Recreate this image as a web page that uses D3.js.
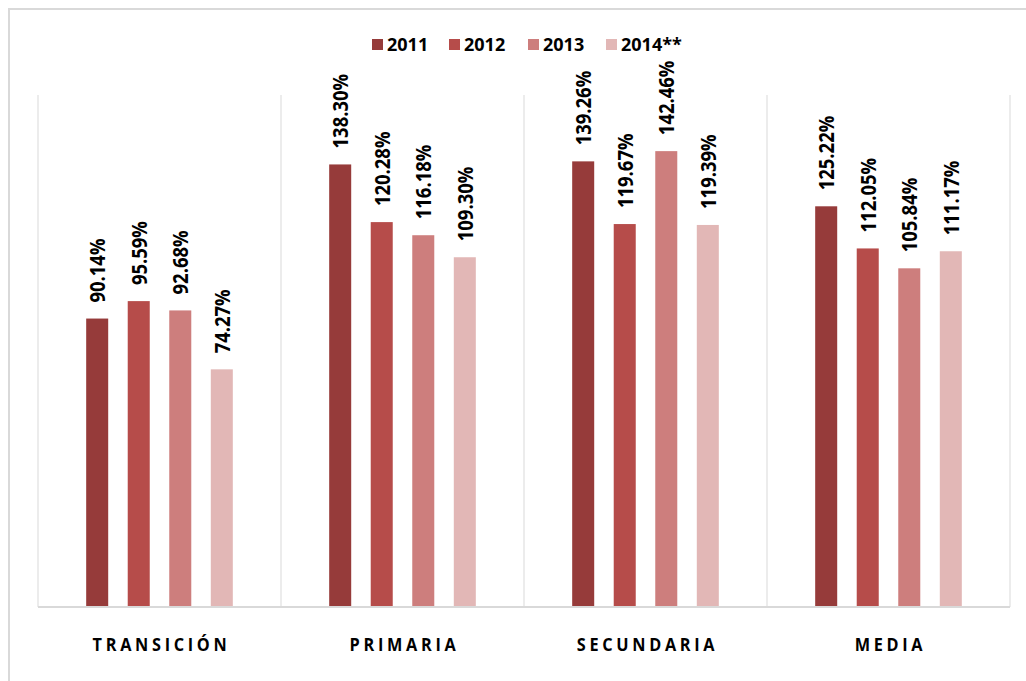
<!DOCTYPE html>
<html>
<head>
<meta charset="utf-8">
<script src="https://cdn.jsdelivr.net/npm/d3@7"></script>
<style>
  body { margin: 0; background: #fff; }
  svg { display: block; font-family: "Open Sans", Lato, sans-serif; }
</style>
</head>
<body>
<div id="vis"></div>
<script>
// data
let categories = ['TRANSICIÓN', 'PRIMARIA', 'SECUNDARIA', 'MEDIA'];
let years = ['2011', '2012', '2013', '2014**'];
let v2011 = [90.14, 138.30, 139.26, 125.22];
let v2012 = [95.59, 120.28, 119.67, 112.05];
let v2013 = [92.68, 116.18, 142.46, 105.84];
let v2014 = [74.27, 109.30, 119.39, 111.17];
let colors = ['#963b3a', '#b64c4a', '#cd7e7d', '#e2b7b6'];

let series = [v2011, v2012, v2013, v2014];

let W = 1026, H = 681;
let margin = { top: 95, left: 38, right: 16, bottom: 74 };

let svg = d3.select('#vis')
  .append('svg')
  .attr('width', W)
  .attr('height', H);

// outer frame of the chart
svg.append('path')
  .attr('d', 'M9,' + (H + 2) + 'V9H' + (W + 2))
  .attr('fill', 'none')
  .attr('stroke', '#d9d9d9')
  .attr('stroke-width', 2);

let x = d3.scaleBand()
  .domain(categories)
  .range([margin.left, W - margin.right])
  .padding(0);

let xSub = d3.scaleBand()
  .domain(years)
  .range([0, x.bandwidth()])
  .paddingInner(0.47)
  .paddingOuter(1.16);

let y = d3.scaleLinear()
  .domain([0, 160])
  .range([H - margin.bottom, margin.top]);

// category dividers
let edges = categories.map(c => x(c)).concat([x(categories[categories.length - 1]) + x.bandwidth()]);
svg.append('g')
  .selectAll('line')
  .data(edges)
  .enter().append('line')
  .attr('x1', d => d).attr('x2', d => d)
  .attr('y1', y(160)).attr('y2', y(0))
  .attr('stroke', '#d9d9d9')
  .attr('stroke-width', 1);

// bars
let groups = svg.append('g')
  .selectAll('g')
  .data(categories)
  .enter().append('g')
  .attr('transform', d => 'translate(' + x(d) + ',0)');

groups.selectAll('rect')
  .data((c, i) => years.map((yr, j) => ({ key: yr, value: series[j][i], j: j })))
  .enter().append('rect')
  .attr('x', d => xSub(d.key))
  .attr('y', d => y(d.value))
  .attr('width', xSub.bandwidth())
  .attr('height', d => y(0) - y(d.value))
  .attr('fill', d => colors[d.j]);

// value labels, rotated (squeezed a bit to look like the narrow original font)
groups.selectAll('text')
  .data((c, i) => years.map((yr, j) => ({ key: yr, value: series[j][i] })))
  .enter().append('text')
  .attr('transform', d => 'translate(' + (xSub(d.key) + xSub.bandwidth() / 2) + ',' + (y(d.value) - 16) + ') rotate(-90) scale(0.9,1)')
  .attr('dominant-baseline', 'central')
  .attr('font-size', 20.5)
  .attr('font-weight', 'bold')
  .attr('fill', '#000')
  .text(d => d.value.toFixed(2) + '%');

// baseline
svg.append('line')
  .attr('x1', margin.left).attr('x2', W - margin.right)
  .attr('y1', y(0)).attr('y2', y(0))
  .attr('stroke', '#d9d9d9')
  .attr('stroke-width', 2);

// category labels
svg.append('g')
  .selectAll('text')
  .data(categories)
  .enter().append('text')
  .attr('transform', d => 'translate(' + (x(d) + x.bandwidth() / 2 + 2) + ',651) scale(0.88,1)')
  .attr('text-anchor', 'middle')
  .attr('font-size', 18.5)
  .attr('font-weight', 'bold')
  .attr('letter-spacing', 4.2)
  .attr('fill', '#000')
  .text(d => d);

// legend
let legendX = [372, 449, 528, 606];
let legend = svg.append('g')
  .selectAll('g')
  .data(years)
  .enter().append('g')
  .attr('transform', (d, i) => 'translate(' + legendX[i] + ',39)');
legend.append('rect')
  .attr('width', 11).attr('height', 11)
  .attr('fill', (d, i) => colors[i]);
legend.append('text')
  .attr('x', 15).attr('y', 12)
  .attr('font-size', 18)
  .attr('font-weight', 'bold')
  .attr('fill', '#000')
  .text(d => d);
</script>
</body>
</html>
